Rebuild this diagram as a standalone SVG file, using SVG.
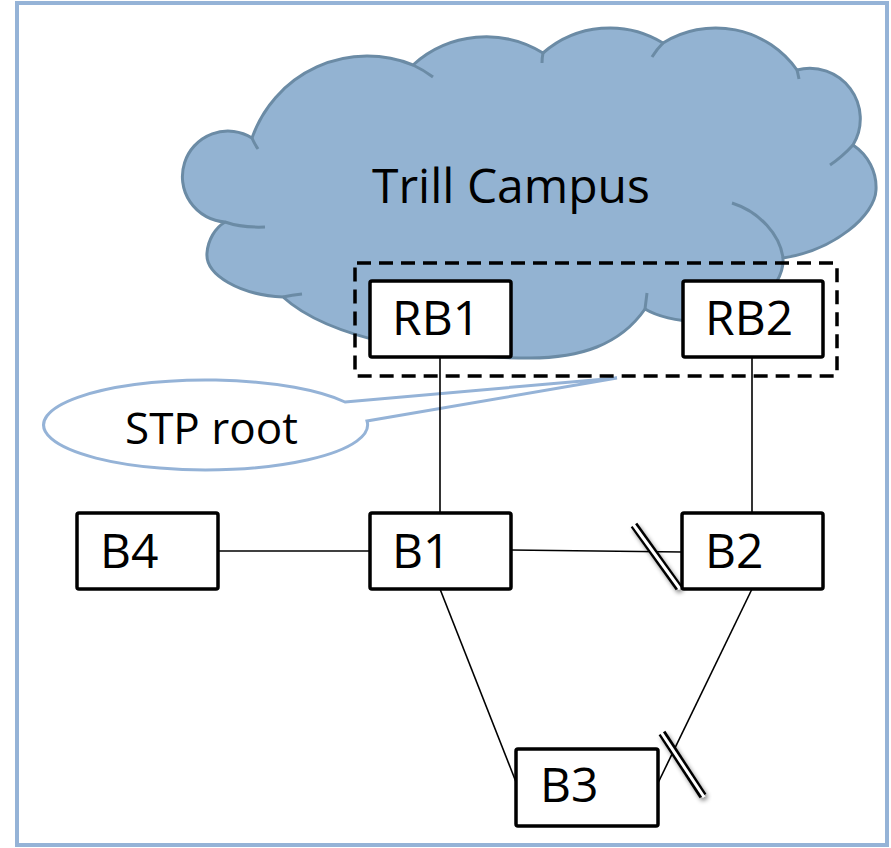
<svg xmlns="http://www.w3.org/2000/svg" width="891" height="848" viewBox="0 0 891 848">
  <defs>
    <style>
      .frame { fill: #ffffff; stroke: #95b3d7; stroke-width: 4; }
      .cloud { fill: #93b3d2; stroke: #6b8ba5; stroke-width: 3; stroke-linejoin: round; }
      .curl { fill: none; stroke: #6b8ba5; stroke-width: 3; stroke-linecap: butt; }
      .node rect { fill: #ffffff; stroke: #000000; stroke-width: 3.5; }
      .label { font-family: "Open Sans", "Noto Sans", "Liberation Sans", sans-serif; font-size: 48px; fill: #000000; }
      .group-box { fill: none; stroke: #000000; stroke-width: 3.5; stroke-dasharray: 14 8; }
      .callout { fill: #ffffff; stroke: #95b3d7; stroke-width: 3; stroke-linejoin: miter; }
      .link { stroke: #000000; stroke-width: 1.6; fill: none; }
      .block-outer { stroke: #000000; stroke-width: 8; }
      .block-inner { stroke: #ffffff; stroke-width: 3; }
    </style>
    <filter id="softShadow" x="-50%" y="-50%" width="200%" height="200%">
      <feDropShadow dx="2" dy="3" stdDeviation="2" flood-color="#000000" flood-opacity="0.45"/>
    </filter>
  </defs>

  <!-- outer frame -->
  <rect class="frame" x="17" y="3" width="870" height="842"/>

  <!-- TRILL campus cloud -->
  <g id="cloud">
    <path class="cloud" d="M 225,222
      A 45.5 45.5 0 1 1 252,138
      A 122 122 0 0 1 413,65
      A 108.7 108.7 0 0 1 543,53
      A 101.5 101.5 0 0 1 663,43
      A 99.6 99.6 0 0 1 797,70
      A 50.5 50.5 0 0 1 853,145
      C 868,155 877,172 876,190
      C 875,215 835,250 783,258
      C 785,290 740,325 700,322
      C 680,321 660,318 645,309
      C 620,345 580,358 530,358
      C 440,358 330,340 283,297
      C 240,295 205,275 207,253
      C 208,240 215,228 225,222 Z"/>
    <path class="curl" d="M 252,138 Q 254,143 258,149"/>
    <path class="curl" d="M 413,65 A 122 122 0 0 1 433,77"/>
    <path class="curl" d="M 543,53 Q 542,58 542,63"/>
    <path class="curl" d="M 663,43 Q 657,49 652,57"/>
    <path class="curl" d="M 797,70 Q 798,74 799,79"/>
    <path class="curl" d="M 853,145 Q 842,157 830,165"/>
    <path class="curl" d="M 783,258 C 780,235 760,212 732,203"/>
    <path class="curl" d="M 645,309 Q 646,301 647,293"/>
    <path class="curl" d="M 283,297 Q 292,295 302,294"/>
    <path class="curl" d="M 225,222 Q 242,228 265,227"/>
    <text class="label" x="372" y="203">Trill Campus</text>
  </g>

  <!-- STP root callout -->
  <g id="stp-root">
    <path class="callout" d="M 345,402 L 617,378 L 367,421 A 162 45 0 1 1 345,402 Z"/>
    <text class="label" x="125" y="444" style="font-size:44px">STP root</text>
  </g>

  <!-- connectors -->
  <g id="connectors">
    <line class="link" x1="440" y1="357" x2="440" y2="513"/>
    <line class="link" x1="752" y1="357" x2="752" y2="513"/>
    <line class="link" x1="218" y1="551" x2="370" y2="551"/>
    <line class="link" x1="511" y1="550" x2="682" y2="552"/>
    <line class="link" x1="440" y1="589" x2="516" y2="782"/>
    <line class="link" x1="752" y1="589" x2="658" y2="783"/>
  </g>

  <!-- blocked ports -->
  <g id="blocked-b2" filter="url(#softShadow)">
    <line class="block-outer" x1="634" y1="525" x2="679" y2="588"/>
    <line class="block-inner" x1="633" y1="524" x2="680" y2="589"/>
  </g>
  <g id="blocked-b3" filter="url(#softShadow)">
    <line class="block-outer" x1="662" y1="733" x2="703" y2="796"/>
    <line class="block-inner" x1="661" y1="732" x2="704" y2="797"/>
  </g>

  <!-- STP root bridge group -->
  <rect id="root-group" class="group-box" x="355" y="263" width="482" height="113" rx="2"/>

  <!-- nodes -->
  <g id="RB1" class="node">
    <rect x="370" y="281" width="141" height="76" rx="2"/>
    <text class="label" x="392" y="335">RB1</text>
  </g>
  <g id="RB2" class="node">
    <rect x="683" y="281" width="140" height="76" rx="2"/>
    <text class="label" x="705" y="335">RB2</text>
  </g>
  <g id="B4" class="node">
    <rect x="77" y="513" width="141" height="76" rx="2"/>
    <text class="label" x="100" y="568">B4</text>
  </g>
  <g id="B1" class="node">
    <rect x="370" y="513" width="141" height="76" rx="2"/>
    <text class="label" x="392" y="568">B1</text>
  </g>
  <g id="B2" class="node">
    <rect x="682" y="513" width="141" height="76" rx="2"/>
    <text class="label" x="705" y="568">B2</text>
  </g>
  <g id="B3" class="node">
    <rect x="516" y="749" width="142" height="77" rx="2"/>
    <text class="label" x="540" y="802">B3</text>
  </g>
</svg>
